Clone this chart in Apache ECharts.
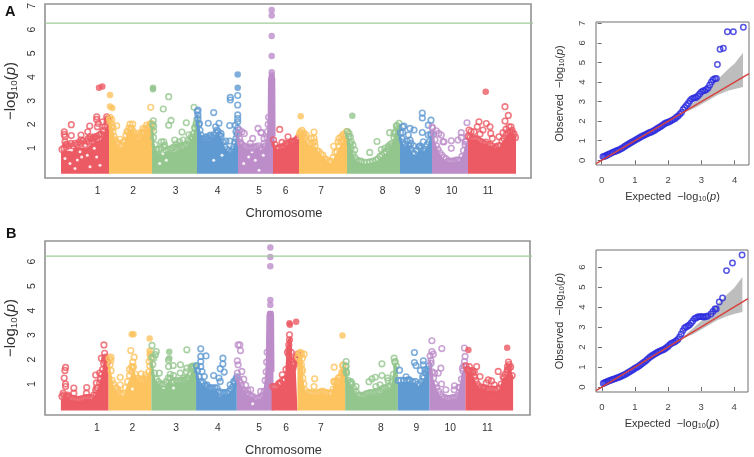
<!DOCTYPE html>
<html lang="en">

<head>
    <meta charset="UTF-8" />
    <title>Manhattan and QQ plots</title>
    <script src="https://cdn.jsdelivr.net/npm/echarts@6/dist/echarts.min.js"></script>
    <style>
        body { margin: 0; background: #fff; }
        #main { width: 754px; height: 457px; }
    </style>
</head>

<body>
    <div id="main"></div>
    <script>
        var chromNames = ["1", "2", "3", "4", "5", "6", "7", "8", "9", "10", "11"];
        var chromColors = ["#ec5a64", "#fcc35f", "#93c68d", "#5f9ad2", "#bd8dc9", "#ec5a64", "#fcc35f", "#93c68d", "#5f9ad2", "#bd8dc9", "#ec5a64"];
        var chromLengths = [48, 43, 45, 41, 35, 26, 48, 53, 32, 36, 48];

        // where the chromosome labels sit along the genome axis
        var labelPosA = [36.7, 72, 114.7, 156.7, 198, 224.7, 260, 321.7, 356.7, 390.7, 427];
        var labelPosB = [36.3, 72, 115.8, 158, 199.4, 226.6, 261.5, 322, 357.6, 391.8, 429];

        var thresholdA = 6.27;
        var thresholdB = 6.22;

        // solid body of each chromosome, [offset, -log10p]
        var massA = [
            [[0, .8], [5, .85], [10, .85], [15, 1], [20, 1], [25, .95], [30, 1.1], [35, 1.25], [40, 1.3], [44, 1.6], [48, 2.1]],
            [[0, 2.2], [2, 2], [4, 1.6], [6, 1.25], [9, 1], [12, .95], [15, 1.1], [18, 1.5], [20, 1.8], [24, 1.7], [27, 1.25], [30, 1.3], [33, 1.4], [36, 1.55], [39, 1.75], [43, 1.9]],
            [[0, 1.9], [1.5, 1.2], [3, .9], [6, .75], [10, .8], [15, .8], [20, .8], [25, .85], [30, .9], [35, 1], [40, 1.3], [43, 1.7], [45, 2.1]],
            [[0, 2.4], [1, 2], [3, 1.6], [6, 1.25], [9, 1.25], [13, 1.3], [17, 1.4], [20, 1.6], [24, 1.35], [27, 1], [30, .85], [33, .75], [36, .85], [39, 1.25], [41, 1.7]],
            [[0, 1.4], [2, 1.15], [5, 1], [10, .9], [15, .9], [20, .95], [24, .85], [27, .95], [29, 1.3], [30, 1.6], [30.7, 2.5], [31, 3.9], [32, 4.15], [35.5, 4.15], [36.3, 3.9], [36.6, 1.5]],
            [[0, 1.25], [1.5, 1.05], [4, .9], [8, .95], [13, 1], [18, 1.15], [22, 1.2], [26, 1.35]],
            [[0, 1.4], [2, 1.5], [5, 1.35], [8, 1.15], [12, 1.05], [16, 1], [20, .75], [25, .55], [29, .35], [32, .3], [35, .5], [38, .75], [41, 1], [44, 1.2], [48, 1.5]],
            [[0, 1.55], [2, 1.3], [4, .9], [7, .55], [10, .4], [15, .3], [20, .3], [25, .35], [30, .4], [35, .6], [40, .75], [45, 1.05], [48, 1.5], [51, 1.9], [53, 2]],
            [[0, 1.5], [2, 1.2], [4, 1.05], [8, 1.1], [12, .7], [16, .65], [20, .9], [24, .8], [28, 1.05], [32, 1.5]],
            [[0, 1.7], [2, 1.3], [5, .9], [9, .6], [13, .45], [18, .35], [23, .35], [28, .4], [32, .75], [34, 1.1], [36, 1.3]],
            [[0, 1.35], [4, 1.3], [8, 1.3], [12, 1.2], [18, 1.1], [22, 1.05], [28, .95], [32, 1], [36, 1.3], [40, 1.55], [44, 1.65], [48, 1.4]]
        ];

        // single points above the body, [offset, -log10p]
        var dotsA = [
            [[3.3, 1.69], [3.3, 1.58], [4, 1.48], [10.3, 1.99], [10.3, 1.53], [4, 1.27], [4.7, 1.15], [20, 1.55], [20, 1.34], [26.7, 1.69], [28.7, 1.93], [29, 1.48], [33.3, 1.48], [35.7, 2.32], [35.7, 2.21], [36.3, 1.9], [41.7, 2.11], [37.3, 2.04], [45.7, 2.32], [46.7, 2.21], [42.3, 1.76], [46.3, 1.97], [43.3, 1.55], [36, 1.4], [27, 1.4], [31, 1.3]],
            [[7.7, 1.94], [2.7, 2.2], [4, 1.9], [11, 1.37], [7.7, 1.27], [21, 2.01], [23.7, 2.01], [22.7, 1.83], [24.3, 1.7], [29.3, 1.62], [34, 1.83], [37.7, 1.97], [41, 2], [41.7, 2.72], [32.7, 1.68], [39.3, 1.7], [42.5, 1.8], [19, 1.7], [26.5, 1.45]],
            [[1.3, 2.15], [1.7, 1.93], [1.7, 1.72], [11.3, 2.65], [16.7, 3.17], [19, 2.17], [16.7, 1.97], [34.3, 2.07], [30, 1.68], [37, 1.56], [42, 2.72], [42.7, 1.87], [44.5, 2.05], [9.3, 1.27], [11.7, 1.27], [12.7, 1.13], [22.7, 1.34], [24.3, 1.17], [27.7, 1.27], [31, 1.34], [36, 1.31], [39.3, 1.48]],
            [[1, 2.6], [1, 2.4], [2.3, 2.05], [11.3, 2.05], [16.7, 2.5], [22, 2.05], [18.7, 1.9], [20, 1.76], [24, 1.62], [32.7, 1.95], [29, 1.3], [32.7, 1.3], [33.3, 3.14], [33.3, 3.03], [40.7, 3.22], [40.7, 2.82], [40.7, 2.4], [40.7, 2.25], [40.7, 2.11], [38.3, 1.97], [9.3, 1.48], [13.3, 1.55], [39, 1.7]],
            [[1.3, 1.76], [4, 1.69], [6.3, 1.62], [20, 1.83], [23.3, 1.66], [14.7, 1.41], [2.3, 1.2], [12.3, 1.2], [26, 1.4], [26, 1.2], [23, 1.65]],
            [[6.7, 1.79], [15, 1.48], [9, 1.24], [13, 1.2], [19, 1.28], [24, 1.38], [21, 1.25]],
            [[2.3, 1.62], [5, 1.62], [7.3, 1.55], [15, 1.68], [15, 1.42], [12.3, 1.41], [15.7, 1.27], [34.7, 1.08], [40, 1.41], [39, 1.27], [42.3, 1.48], [44, 1.58], [45.7, 1.48]],
            [[2, 1.62], [3.3, 1.48], [4.3, 1.27], [6, 1.13], [7.7, .92], [22.7, .82], [30, 1.28], [34.3, .94], [37.7, .99], [42.7, 1.65], [41, 1.06], [44.3, 1.06], [47, 1.62], [49.3, 1.93], [51, 1.83]],
            [[2.7, 1.9], [2.7, 1.66], [4, 1.93], [10, 1.83], [14, 1.76], [8.3, 1.55], [10, 1.34], [22.3, 2.48], [22.3, 2.27], [31, 2.18], [28.3, 1.97], [22.3, 1.66], [23.3, 1.27], [28.3, 1.55], [31, 1.55], [11, 1.2], [13.5, 1.1], [20, 1.1]],
            [[0, 1.9], [4.3, 1.73], [6.7, 1.62], [9.3, 1.55], [11, 1.27], [12, 1.27], [19.3, 1.31], [19.3, .99], [26, 1.34], [29.3, 1.65], [29.3, 1.45], [35, 2.07], [33.3, 1.27]],
            [[1, 1.76], [11, 2.11], [18.3, 2.04], [22, 1.9], [37, 2.75], [40.3, 2.38], [37, 2.14], [41, 1.9], [9.3, 1.9], [15, 1.76], [6, 1.69], [22.7, 1.62], [31, 1.48], [44.3, 1.65], [24.3, 1.41], [3, 1.7], [12, 1.6], [35, 1.65], [38, 1.8], [43, 1.9]]
        ];

        // rings packed along the top of the body
        var rimA = [
            [[1, .95], [3, 1], [5, 1.05], [6, 1.15], [8, 1.1], [10, 1.2], [12, 1.1], [14, 1.2], [16, 1.15], [18, 1.25], [20, 1.2], [22, 1.3], [24, 1.15], [26, 1.3], [28, 1.25], [30, 1.4], [32, 1.4], [34, 1.45], [36, 1.5], [38, 1.55], [40, 1.6], [42, 1.7], [44, 1.9], [46, 2.1], [47, 2.25]],
            [[1, 2.3], [.5, 2.2], [2, 2.05], [3, 1.85], [4, 1.7], [5, 1.5], [6, 1.35], [8, 1.2], [10, 1.15], [13, 1.1], [14, 1.25], [16, 1.3], [17, 1.55], [18, 1.7], [20, 1.85], [22, 1.85], [25, 1.6], [26, 1.4], [28, 1.35], [30, 1.45], [31, 1.55], [33, 1.6], [35, 1.65], [36, 1.8], [38, 1.85], [40, 1.9], [42, 2.05]],
            [[.5, 2], [1.5, 1.45], [3, 1.15], [5, .95], [7, .95], [9, 1], [12, 1.05], [14, .9], [16, .95], [18, .95], [20, 1], [22, 1.05], [24, 1], [26, 1.05], [28, 1.1], [30, 1.05], [32, 1.1], [34, 1.15], [36, 1.15], [38, 1.25], [40, 1.4], [41, 1.6], [43, 1.85], [44, 2], [44.8, 2.2]],
            [[.3, 2.55], [1, 2.25], [2, 2], [3, 1.75], [4, 1.55], [5, 1.4], [7, 1.4], [9, 1.45], [11, 1.4], [13, 1.5], [15, 1.45], [17, 1.55], [19, 1.65], [21, 1.7], [22.5, 1.55], [24, 1.5], [26, 1.25], [28, 1.05], [30, .95], [32, .9], [34, .85], [36, .95], [37, 1.05], [38, 1.25], [39, 1.4], [40, 1.6], [40.7, 1.85]],
            [[.5, 1.6], [1.5, 1.4], [2.5, 1.25], [4, 1.15], [6, 1.1], [8, 1.05], [10, 1], [12, 1.05], [14, 1], [16, 1.05], [18, 1.05], [20, 1.1], [22, 1], [24, .95], [26, 1.05], [27.5, 1.1], [29, 1.45], [29.5, 1.7], [30.2, 2], [30.6, 2.3]],
            [[.5, 1.35], [2, 1.15], [4, 1], [6, 1], [8, 1.05], [10, 1.05], [12, 1.1], [14, 1.15], [16, 1.2], [18, 1.25], [20, 1.3], [22, 1.3], [24, 1.35], [25.5, 1.45]],
            [[.5, 1.6], [1.5, 1.7], [3, 1.75], [4, 1.55], [6, 1.45], [8, 1.3], [10, 1.2], [12, 1.15], [14, 1.2], [16, 1.1], [18, .9], [20, .85], [22, .75], [24, .7], [26, .55], [28, .5], [30, .45], [32, .45], [34, .6], [36, .8], [38, .85], [40, 1.1], [42, 1.25], [44, 1.35], [46, 1.55], [47.5, 1.7]],
            [[.5, 1.7], [1.5, 1.5], [3, 1.2], [4, 1], [6, .75], [8, .6], [10, .5], [12, .45], [14, .45], [17, .4], [20, .4], [23, .42], [26, .45], [29, .5], [31, .55], [33, .65], [35, .7], [37, .8], [39, .85], [41, .95], [43, 1.15], [45, 1.2], [47, 1.45], [48.5, 1.7], [50, 1.95], [52, 2.05]],
            [[.5, 1.65], [2, 1.4], [3, 1.25], [5, 1.15], [7, 1.3], [9, 1.1], [11, .95], [13, .8], [15, .75], [17, .9], [19, 1.05], [21, 1], [23, .9], [25, .95], [27, 1.15], [29, 1.25], [31, 1.6]],
            [[.5, 1.85], [1.5, 1.6], [3, 1.35], [4.5, 1.1], [6, .95], [8, .8], [10, .7], [12, .6], [14, .55], [16, .45], [18, .45], [20, .45], [22, .45], [24, .5], [26, .5], [28, .5], [30, .65], [31.5, .9], [33, 1.15], [34.5, 1.3], [35.5, 1.5]],
            [[.5, 1.5], [2, 1.45], [4, 1.4], [6, 1.4], [8, 1.4], [10, 1.35], [12, 1.3], [14, 1.25], [16, 1.2], [18, 1.25], [20, 1.15], [22, 1.15], [24, 1.1], [26, 1], [28, 1.05], [30, 1.1], [32, 1.1], [34, 1.3], [36, 1.4], [38, 1.55], [40, 1.65], [42, 1.7], [44, 1.75], [46, 1.6], [47.5, 1.45]]
        ];

        // points that read as filled discs, [chromosome index, offset, -log10p]
        var filledA = [[0, 38, 3.55], [0, 41.3, 3.6], [2, 1, 3.55], [2, 1, 3.48], [3, 40.7, 4.11], [3, 40.7, 3.55], [4, 33.7, 6.83], [4, 33.7, 6.6], [4, 33.7, 5.73], [4, 33.7, 4.89], [4, 33.7, 4.2], [7, 5.3, 2.37], [10, 17.7, 3.38], [1, 1, 3.24], [1, 1, 2.76], [1, 3.3, 2.69], [6, 1.7, 2.34]];

        // open circles that show white inside the body, [chromosome index, offset, -log10p]
        var openA = [[0, 19, .85], [0, 16.3, .5], [0, 20.7, .63], [0, 9, .35], [0, 14, .14], [0, 26.3, .7], [0, 35.7, .63], [0, 39, .28], [0, 4, .56], [0, 29, .21], [0, 10.7, .92], [0, 33.3, .99], [2, 11, .77], [2, 14.3, .49], [2, 22.7, .92], [2, 27.7, .99], [2, 7.7, .35], [3, 16.7, .49], [3, 25, .7], [4, 10.7, .63], [4, 14, .85], [4, 21, .07], [4, 17.3, .49], [4, 5.7, .35], [4, 25.3, .7]];
        var openB = [[2, 12.3, .86], [2, 22.3, .84], [3, 24.3, .57], [3, 26, .65], [9, 19.7, .5], [9, 24.7, .63], [4, 16, .2], [1, 24, .8]];

        var massB = [
            [[0, .35], [5, .35], [10, .3], [15, .25], [20, .25], [25, .3], [30, .3], [33, .4], [36, .6], [39, .9], [42, 1.4], [44, 1.9], [48, 1.7]],
            [[0, 1.8], [2, 1.4], [4, .9], [7, .7], [10, .55], [13, .45], [16, .5], [19, .9], [22, 1.2], [25, 1.5], [28, 1.2], [31, 1], [35, 1], [38, 1.1], [41, 1.3], [43, 1.9]],
            [[0, 1.9], [1.5, 1.6], [3, 1.2], [6, 1], [10, .85], [15, .9], [18, 1.1], [22, .95], [26, 1], [30, 1], [34, 1], [38, 1.1], [41, 1.5], [45, 1.6]],
            [[0, 1.6], [3, 1.1], [6, .95], [10, .8], [15, .7], [20, .7], [24, .5], [28, .5], [33, .55], [37, .75], [41, 1.2]],
            [[0, 1.3], [2, 1.1], [4, .9], [8, .6], [12, .45], [16, .4], [20, .3], [24, .35], [27, .5], [28.5, 1], [29.5, 1.4], [30.2, 2], [30.5, 3], [30.8, 3.8], [31.5, 3.95], [36, 3.95], [36.5, 3.8], [36.9, 1.5]],
            [[0, .75], [4, .75], [8, .85], [11, 1], [14, 1], [15.5, 2], [17, 2.8], [19, 2.9], [20, 1.7], [22, 1.5], [24, 1.9], [26, 1.9]],
            [[0, 1.9], [2, 2.1], [4, 2.2], [5, 1.2], [7, .7], [12, .5], [20, .5], [25, .55], [30, .5], [35, .5], [37, .95], [41, .95], [44, 1.2], [45, 1.6], [48, 1.3]],
            [[0, 1.6], [2, 1.2], [4, .95], [7, .85], [10, .6], [15, .4], [20, .4], [25, .5], [30, .5], [35, .55], [40, .7], [45, .75], [48, 1], [50, 1.8], [53, 1.6]],
            [[0, 1], [4, 1.05], [8, 1.05], [12, 1.05], [18, 1], [21, .85], [23, .9], [26, 1.1], [29, 1.4], [32, 1.6]],
            [[0, 2], [1.5, 1.6], [3, 1.2], [6, .8], [9, .55], [13, .35], [18, .3], [23, .3], [28, .35], [31, .9], [33, 1.4], [36, 1.7]],
            [[0, 1.6], [3, 1.45], [7, 1.3], [11, .95], [15, .75], [20, .7], [25, .65], [30, .65], [35, .7], [38, 1.2], [42, 1.3], [44, 1.7], [48, 1.2]]
        ];

        var dotsB = [
            [[4.7, 1.68], [4, 1.56], [3.3, 1.25], [4.7, 1], [4.7, .9], [13, .84], [26, .86], [35, 1.37], [39, 1.45], [35.7, 1.05], [35.7, .84], [43.3, 2.6], [44, 2.26], [40.7, 2.06], [44, 1.95], [2.3, .63], [13, .63], [25.7, .63], [35.7, .56], [7, .55]],
            [[2.3, 2.1], [2.3, 1.98], [11.7, 1.28], [11.7, .97], [22.3, 2.37], [25.7, 2.1], [24.3, 1.9], [23.3, 1.72], [32.7, 1.42], [37.3, 1.38], [39, 1.22], [40.7, 1.92], [9, .8], [33, 1.2], [21, 1.6]],
            [[.7, 2.58], [5, 2.33], [4, 2.2], [2.3, 2.06], [8, 1.45], [17.3, 1.98], [17.3, 1.72], [22, 1.76], [29.3, 1.79], [35.7, 2.4], [35.7, 1.65], [41.7, 1.74], [22.3, 1.35], [29, 1.45], [35.3, 1.5], [40, 1.7], [19, 1.4], [33, 1.25]],
            [[4.7, 2.44], [4.7, 2.13], [10, 2.15], [4.7, 1.92], [4.7, 1.72], [6, 1.51], [8.3, 1.31], [17.7, 1.35], [27, 2.06], [27, 1.82], [24.3, 1.63], [28.3, 1.49], [23, 1.25], [24.3, 1.11], [11, .97], [34.3, .97], [38, 1.11]],
            [[1.3, 2.6], [3, 2.6], [3.7, 2.37], [.5, 1.95], [1.3, 1.79], [5, 1.52], [9, .95], [14, .77], [24, .7], [7, 1.2], [11, .75]],
            [[18, 3.01], [18, 2.81], [17.3, 2.6], [17.3, 2.4], [17.3, 2.2], [10.7, 1.38], [13, 1.18], [26.3, 2.22], [26.3, 1.99], [24.7, 1.99], [22, 1.8], [20.5, 1.6], [8, 1.05]],
            [[4, 2.24], [6.7, 2.22], [5, 2.06], [4, 1.79], [5, 1.58], [17.3, 1.22], [16.7, .9], [37, 1.69], [46, 1.79], [45.7, 1.52], [41, 1.25], [36.7, 1.11], [40, 1.04]],
            [[1, 1.92], [1, 1.72], [1, 1.52], [6, 1.1], [11, .9], [24, 1.1], [27, 1.22], [30.3, 1.28], [37, 1.83], [37, 1.35], [31, .9], [35, .97], [42.7, 1.25], [43.3, 1.14], [49.3, 2.06], [50.3, 1.92]],
            [[1.7, 1.57], [8.3, 1.3], [11, 1.18], [16.7, 2.29], [16.7, 1.88], [18.3, 1.76], [25.7, 1.95], [25.7, 1.79], [22.7, 1.56], [27.3, 1.58], [25, 1.31], [30, 1.52]],
            [[2.3, 2.77], [2.3, 2.33], [3.7, 2.22], [12.3, 2.45], [1.3, 1.96], [11.3, 1.65], [8.7, 1.45], [12, 1], [16.3, .77], [25, .93], [29.3, .87], [24.7, .77], [33, 1.65], [35, 2.47], [35.7, 2.13], [35, 1.92], [5, 1.45]],
            [[11.3, 1.72], [7.3, 1.55], [14.7, 1.31], [23, 1.17], [26.3, 1.13], [18, .84], [29, .97], [33, 1.52], [43.3, 1.9], [42.3, 1.72], [42.3, 1.58], [39, 1.25], [4, 1.72], [9, 1.5], [21, 1.05], [44, 1.65]]
        ];

        var rimB = [
            [[1, .5], [3, .55], [5, .5], [7, .5], [9, .45], [11, .4], [13, .42], [15, .38], [17, .38], [19, .38], [21, .4], [23, .42], [25, .45], [27, .45], [29, .45], [31, .45], [33, .55], [35, .75], [37, .85], [39, 1.05], [40, 1.2], [41, 1.4], [42, 1.6], [43, 1.85], [44, 2.05], [45, 2.1], [46, 2], [47, 1.9]],
            [[.5, 2.05], [1.5, 1.8], [2.5, 1.55], [3.5, 1.15], [5, 1], [7, .85], [9, .72], [11, .65], [13, .58], [15, .62], [17, .85], [19, 1.1], [21, 1.35], [23, 1.5], [24, 1.65], [25, 1.7], [27, 1.4], [29, 1.25], [31, 1.15], [33, 1.15], [35, 1.15], [37, 1.2], [39, 1.3], [40.5, 1.5], [41.5, 1.75], [42.5, 2.05]],
            [[.5, 2.1], [1.5, 1.8], [3, 1.45], [5, 1.2], [7, 1.1], [9, 1], [11, 1], [13, 1], [15, 1.1], [17, 1.25], [19, 1.25], [21, 1.1], [23, 1.1], [25, 1.15], [27, 1.1], [29, 1.15], [31, 1.15], [33, 1.15], [35, 1.2], [37, 1.25], [39, 1.4], [41, 1.65], [43, 1.7], [44.5, 1.75]],
            [[.5, 1.75], [1.5, 1.55], [3, 1.3], [5, 1.1], [7, 1.05], [9, .95], [11, .9], [13, .85], [15, .85], [17, .85], [19, .85], [21, .85], [23, .7], [25, .65], [27, .65], [29, .65], [31, .65], [33, .7], [35, .8], [37, .9], [38.5, 1.05], [40, 1.2], [41, 1.3]],
            [[.5, 1.45], [1.5, 1.25], [3, 1.1], [4.5, .95], [6, .8], [8, .72], [10, .62], [12, .58], [14, .52], [16, .5], [18, .42], [20, .42], [22, .45], [24, .45], [26, .55], [27.5, .7], [28.5, 1.15], [29.5, 1.5], [30, 1.9], [30.5, 2.3]],
            [[1, .9], [3, .9], [5, .92], [7, 1], [9, 1.05], [11, 1.15], [13, 1.2], [14.5, 1.6], [16, 2.3], [19.7, 2.3], [20.5, 1.9], [21.5, 1.65], [23, 1.8], [24, 2.05], [25, 2.1]],
            [[.5, 2.1], [1.5, 2.25], [3, 2.3], [4.5, 1.5], [5.5, 1.25], [6.5, 1], [8, .75], [10, .65], [12, .65], [14, .65], [16, .62], [18, .62], [20, .65], [22, .65], [24, .7], [26, .7], [28, .65], [30, .65], [32, .6], [34, .65], [36, .8], [37, 1.1], [39, 1.1], [41, 1.15], [43, 1.3], [44.5, 1.45], [45.5, 1.75], [47, 1.5]],
            [[.5, 1.75], [1.5, 1.45], [3, 1.15], [5, 1.05], [7, 1], [9, .8], [11, .7], [13, .55], [15, .55], [17, .52], [19, .55], [21, .6], [23, .62], [25, .65], [27, .65], [29, .65], [31, .7], [33, .7], [35, .72], [37, .8], [39, .85], [41, .85], [43, .9], [45, .92], [47, 1.1], [48.5, 1.4], [50, 1.9], [51.5, 1.75]],
            [[.5, 1.15], [3, 1.15], [6, 1.15], [9, 1.15], [12, 1.15], [15, 1.1], [18, 1.1], [20, 1], [22, 1], [24, 1.1], [26, 1.25], [28, 1.45], [30, 1.6], [31.5, 1.75]],
            [[.5, 2.15], [1.5, 1.85], [2.5, 1.5], [4, 1.25], [5.5, 1], [7, .85], [9, .7], [11, .58], [13, .48], [15, .45], [17, .42], [19, .42], [21, .42], [23, .45], [25, .45], [27, .48], [29, .55], [30.5, .85], [32, 1.2], [33.5, 1.55], [34.5, 1.75]],
            [[.5, 1.75], [2, 1.6], [4, 1.55], [5.5, 1.5], [7.5, 1.45], [9, 1.3], [10.5, 1.15], [12, 1], [14, .9], [16, .88], [18, .85], [20, .85], [22, .8], [24, .8], [26, .8], [28, .8], [30, .78], [32, .8], [34, .85], [36, 1], [38, 1.3], [40, 1.4], [42, 1.5], [44, 1.8], [45.5, 1.7], [47, 1.35]]
        ];

        var filledB = [[4, 33.7, 6.57], [4, 33.7, 6.19], [4, 33.7, 5.81], [4, 33.7, 4.43], [4, 33.7, 4.23], [5, 18, 3.48], [5, 18.4, 3.42], [5, 24.7, 3.55], [6, 45.3, 2.98], [1, 23.3, 3.04], [1, 25, 3.04], [1, 41.3, 2.86], [1, 41.3, 2.36], [1, 41.3, 2.22], [10, 42, 2.48], [10, 3, 2.39], [2, 18, 2.32], [2, 18, 2.06]];

        // QQ plots, [expected, observed]
        var qqA = [[.04, .18], [.08, .2], [.12, .23], [.16, .26], [.2, .3], [.25, .34], [.3, .38], [.35, .42], [.4, .45], [.45, .49], [.5, .52], [.55, .56], [.6, .6], [.65, .66], [.7, .72], [.75, .77], [.8, .82], [.85, .87], [.9, .92], [.95, .97], [1, 1.02], [1.05, 1.07], [1.1, 1.12], [1.15, 1.17], [1.2, 1.22], [1.25, 1.26], [1.3, 1.3], [1.35, 1.34], [1.4, 1.38], [1.45, 1.42], [1.5, 1.45], [1.55, 1.5], [1.6, 1.54], [1.65, 1.6], [1.7, 1.65], [1.75, 1.7], [1.8, 1.75], [1.85, 1.82], [1.9, 1.88], [1.95, 1.92], [2, 1.95], [2.05, 1.99], [2.1, 2.03], [2.15, 2.08], [2.2, 2.13], [2.25, 2.2], [2.3, 2.27], [2.35, 2.36], [2.4, 2.45], [2.45, 2.6], [2.5, 2.7], [2.55, 2.8], [2.6, 2.9], [2.65, 3.03], [2.7, 3.13], [2.75, 3.18], [2.8, 3.2], [2.85, 3.22], [2.9, 3.3], [2.95, 3.4], [3, 3.5], [3.05, 3.55], [3.1, 3.57], [3.15, 3.62], [3.2, 3.7], [3.25, 3.85], [3.3, 4], [3.35, 4.12], [3.4, 4.17], [3.45, 4.18], [3.48, 4.9], [3.56, 5.68], [3.66, 5.73], [3.78, 6.57], [3.96, 6.57], [4.26, 6.8]];
        var qqB = [[.04, .18], [.08, .21], [.12, .24], [.16, .27], [.2, .3], [.25, .33], [.3, .36], [.35, .39], [.4, .42], [.45, .45], [.5, .48], [.55, .51], [.6, .55], [.65, .59], [.7, .63], [.75, .68], [.8, .73], [.85, .78], [.9, .83], [.95, .88], [1, .94], [1.05, .98], [1.1, 1.03], [1.15, 1.09], [1.2, 1.15], [1.25, 1.21], [1.3, 1.27], [1.35, 1.34], [1.4, 1.42], [1.45, 1.49], [1.5, 1.55], [1.55, 1.6], [1.6, 1.65], [1.65, 1.7], [1.7, 1.75], [1.75, 1.79], [1.8, 1.83], [1.85, 1.86], [1.9, 1.9], [1.95, 1.96], [2, 2.03], [2.05, 2.11], [2.1, 2.18], [2.15, 2.22], [2.2, 2.25], [2.25, 2.31], [2.3, 2.38], [2.35, 2.5], [2.4, 2.65], [2.45, 2.82], [2.5, 2.95], [2.55, 3], [2.6, 3.05], [2.65, 3.1], [2.7, 3.2], [2.75, 3.3], [2.8, 3.42], [2.85, 3.45], [2.9, 3.5], [2.95, 3.52], [3, 3.52], [3.05, 3.51], [3.1, 3.5], [3.15, 3.52], [3.2, 3.55], [3.3, 3.65], [3.36, 3.78], [3.42, 3.9], [3.46, 3.9], [3.55, 4.25], [3.65, 4.45], [3.77, 5.82], [3.95, 6.2], [4.24, 6.6]];

        var bandUpper = [[2.4, 2.42], [2.8, 3], [3.2, 3.6], [3.5, 4.15], [3.8, 4.65], [4, 4.95], [4.25, 5.5]];
        var bandLower = [[2.4, 2.38], [2.8, 2.68], [3.2, 3.06], [3.5, 3.35], [3.8, 3.55], [4, 3.65], [4.25, 3.75]];

        var fontName = '"Liberation Sans", Arial, sans-serif';
        var textColor = "#333";

        function logpName() {
            return "{n|\u2212log}{s|10}{n|(}{i|p}{n|)}";
        }

        function richFor(size) {
            return {
                n: { fontSize: size, fontFamily: fontName, color: textColor, lineHeight: size + 2 },
                s: { fontSize: size * 0.66, fontFamily: fontName, color: textColor, lineHeight: size + 2, verticalAlign: "bottom" },
                i: { fontSize: size, fontFamily: fontName, fontStyle: "italic", color: textColor, lineHeight: size + 2 }
            };
        }

        var grids = [
            { left: 45, top: 4, width: 486, height: 174 },
            { left: 596, top: 22, width: 153, height: 143 },
            { left: 45, top: 241, width: 485, height: 174 },
            { left: 596, top: 250, width: 152, height: 142 }
        ];
        grids.forEach(function (g, i) {
            g.show = true;
            g.outerBoundsMode = "none"; // keep the boxes where they are, labels may run to the page edge
            g.borderColor = i % 2 ? "#6e6e6e" : "#929292";
            g.borderWidth = i % 2 ? 1 : 1.6;
            g.backgroundColor = "transparent";
        });

        function genomeAxes(gridIndex, labelPos, xMax, yMin, yMax, ticks) {
            var x = {
                gridIndex: gridIndex, type: "value", min: -16, max: xMax,
                name: "Chromosome", nameLocation: "middle", nameGap: 29,
                nameTextStyle: { fontFamily: fontName, fontSize: 12.8, color: textColor, padding: [0, 8, 0, 0] },
                axisLine: { show: false }, axisTick: { show: false }, splitLine: { show: false },
                axisLabel: {
                    customValues: labelPos, margin: 8, fontFamily: fontName, fontSize: 10.3, color: textColor,
                    formatter: function (v) { return chromNames[labelPos.indexOf(v)]; }
                }
            };
            var y = {
                gridIndex: gridIndex, type: "value", min: yMin, max: yMax,
                name: logpName(), nameLocation: "middle", nameGap: 26, nameRotate: 90,
                nameTextStyle: { rich: richFor(15) },
                axisLine: { show: false }, axisTick: { show: false }, splitLine: { show: false },
                axisLabel: { customValues: ticks, rotate: 90, margin: 7, fontFamily: fontName, fontSize: 10.5, color: textColor }
            };
            return [x, y];
        }

        function qqAxes(gridIndex, xMin, xMax, yMin, yMax, yTicks) {
            var xTicks = [0, 1, 2, 3, 4];
            var x = {
                gridIndex: gridIndex, type: "value", min: xMin, max: xMax,
                name: "{n|Expected  }" + logpName(), nameLocation: "middle", nameGap: 25,
                nameTextStyle: { rich: richFor(11) },
                axisLine: { show: false }, splitLine: { show: false },
                axisTick: { show: true, customValues: xTicks, length: 4, lineStyle: { color: "#6e6e6e" } },
                axisLabel: { customValues: xTicks, margin: 10, fontFamily: fontName, fontSize: 9.5, color: "#444" }
            };
            var y = {
                gridIndex: gridIndex, type: "value", min: yMin, max: yMax,
                name: "{n|Observed  }" + logpName(), nameLocation: "middle", nameGap: 30, nameRotate: 90,
                nameTextStyle: { rich: richFor(11) },
                axisLine: { show: false }, splitLine: { show: false },
                axisTick: { show: true, customValues: yTicks, length: 4, lineStyle: { color: "#6e6e6e" } },
                axisLabel: { customValues: yTicks, rotate: 90, margin: 9, fontFamily: fontName, fontSize: 9.5, color: "#444" }
            };
            return [x, y];
        }

        // chromosome bodies and points, placed by cumulative position
        function manhattanSeries(mass, dots, rim, filled, open, axisIndex, threshold) {
            var out = [];
            var start = 0;
            chromLengths.forEach(function (len, i) {
                var s = start;
                var shift = function (p) { return [p[0] + s, p[1]]; };
                var pick = function (list) {
                    return list.filter(function (f) { return f[0] === i; }).map(function (f) { return [f[1] + s, f[2]]; });
                };
                out.push({
                    type: "line", xAxisIndex: axisIndex, yAxisIndex: axisIndex, silent: true,
                    data: mass[i].map(shift), showSymbol: false, symbol: "none",
                    lineStyle: { width: 2, color: chromColors[i] },
                    areaStyle: { color: chromColors[i], opacity: 1, origin: -0.08 },
                    z: 2 + i
                });
                out.push({
                    type: "scatter", xAxisIndex: axisIndex, yAxisIndex: axisIndex, silent: true,
                    data: pick(open), symbolSize: 3,
                    itemStyle: { color: "#fff", opacity: 0.85 },
                    z: 2 + i
                });
                out.push({
                    type: "scatter", xAxisIndex: axisIndex, yAxisIndex: axisIndex, silent: true,
                    data: rim[i].concat(dots[i]).map(shift), symbolSize: 5.6,
                    itemStyle: { color: "transparent", borderColor: chromColors[i], borderWidth: 1.6 },
                    z: 2 + i
                });
                out.push({
                    type: "scatter", xAxisIndex: axisIndex, yAxisIndex: axisIndex, silent: true,
                    data: pick(filled), symbolSize: 6.5,
                    itemStyle: { color: chromColors[i] },
                    z: 2 + i
                });
                start += len;
            });
            out.push({
                type: "line", xAxisIndex: axisIndex, yAxisIndex: axisIndex, silent: true,
                data: [[-16, threshold], [500, threshold]], showSymbol: false, symbol: "none",
                lineStyle: { width: 1.2, color: "#9fcb9a" }, z: 20
            });
            return out;
        }

        function qqSeries(points, axisIndex, xMin, xMax) {
            return [
                {
                    type: "custom", xAxisIndex: axisIndex, yAxisIndex: axisIndex, silent: true, z: 2,
                    data: [[bandUpper[0][0], bandUpper[0][1]]],
                    renderItem: function (params, api) {
                        var pts = bandUpper.concat(bandLower.slice().reverse()).map(function (p) {
                            return api.coord(p);
                        });
                        return { type: "polygon", shape: { points: pts }, style: { fill: "#bdbdbd" } };
                    }
                },
                {
                    type: "scatter", xAxisIndex: axisIndex, yAxisIndex: axisIndex, silent: true, z: 3,
                    data: points, symbolSize: 5.4,
                    itemStyle: { color: "transparent", borderColor: "#2a2ade", borderWidth: 1.5 }
                },
                {
                    type: "line", xAxisIndex: axisIndex, yAxisIndex: axisIndex, silent: true, z: 4,
                    data: [[xMin, xMin], [xMax, xMax]], showSymbol: false, symbol: "none",
                    lineStyle: { width: 1.4, color: "#d8403c" }
                }
            ];
        }

        var axesA = genomeAxes(0, labelPosA, 470, -0.26, 7.08, [1, 2, 3, 4, 5, 6, 7]);
        var qaxesA = qqAxes(1, -0.17, 4.43, -0.24, 7.07, [0, 1, 2, 3, 4, 5, 6, 7]);
        var axesB = genomeAxes(2, labelPosB, 472, -0.26, 6.84, [1, 2, 3, 4, 5, 6]);
        var qaxesB = qqAxes(3, -0.18, 4.42, -0.25, 6.85, [0, 1, 2, 3, 4, 5, 6]);

        var option = {
            animation: false,
            backgroundColor: "#fff",
            textStyle: { fontFamily: fontName },
            grid: grids,
            xAxis: [axesA[0], qaxesA[0], axesB[0], qaxesB[0]],
            yAxis: [axesA[1], qaxesA[1], axesB[1], qaxesB[1]],
            series: [].concat(
                manhattanSeries(massA, dotsA, rimA, filledA, openA, 0, thresholdA),
                qqSeries(qqA, 1, -0.17, 4.43),
                manhattanSeries(massB, dotsB, rimB, filledB, openB, 2, thresholdB),
                qqSeries(qqB, 3, -0.18, 4.42)
            ),
            graphic: [
                { type: "text", left: 5, top: 4, style: { text: "A", font: 'bold 14.5px "Liberation Sans"', fill: "#111" } },
                { type: "text", left: 6, top: 226, style: { text: "B", font: 'bold 14.5px "Liberation Sans"', fill: "#111" } }
            ]
        };

        var myChart = echarts.init(document.getElementById("main"));
        myChart.setOption(option);
    </script>
</body>

</html>
